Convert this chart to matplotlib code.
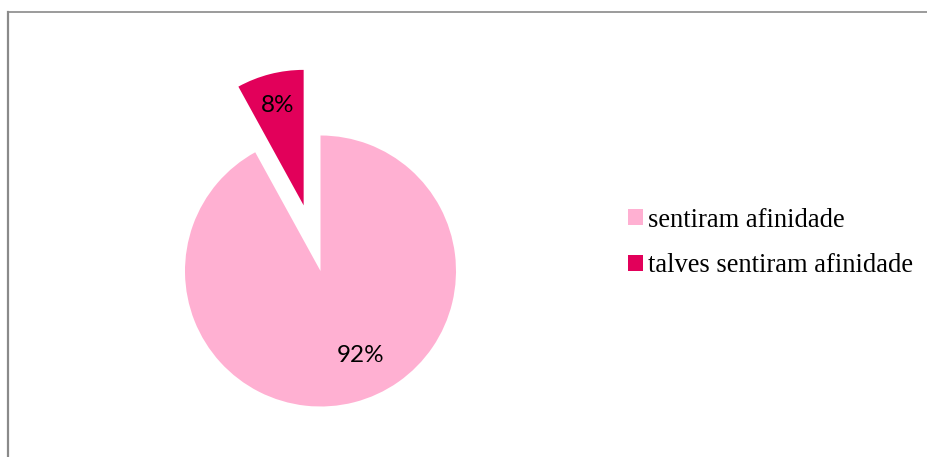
import numpy as np
import matplotlib.pyplot as plt
from matplotlib.lines import Line2D

labels = ['sentiram afinidade', 'talves sentiram afinidade']
values = [92, 8]
colors = ['#FFB0D2', '#E2005A']

W, H = 928, 457
fig = plt.figure(figsize=(W / 100, H / 100), dpi=100)

# pie centre and radius in pixels, axes scaled so one data unit = radius
cx, cy, r = 320.5, H - 271, 135.5
ax = fig.add_axes([0, 0, 1, 1])

wedges, texts, autotexts = ax.pie(values, colors=colors, startangle=90, counterclock=False,
                                  explode=[0, 0.5], radius=1,
                                  autopct='%1.0f%%', pctdistance=0.76,
                                  wedgeprops=dict(linewidth=0),
                                  textprops=dict(fontsize=17.5, family=['Lato', 'DejaVu Sans'],
                                                 color='black'))

ax.set_xlim(-cx / r, (W - cx) / r)
ax.set_ylim(-cy / r, (H - cy) / r)
ax.set_aspect('equal')
ax.axis('off')

# Excel-style placement of the big slice label
ang = np.deg2rad(-64.5)
autotexts[0].set_position((0.69 * np.cos(ang), 0.69 * np.sin(ang)))

fig.legend(wedges, labels, loc='center left', bbox_to_anchor=(628 / W, 1 - 243 / H),
           frameon=False, handlelength=0.55, handleheight=0.55, handletextpad=0.2,
           labelspacing=0.78, borderpad=0, borderaxespad=0,
           prop=dict(family=['Liberation Serif', 'DejaVu Serif'], size=19.1))

# chart frame (left and top edges)
fig.add_artist(Line2D([7.5 / W, 7.5 / W], [0, 1 - 11.5 / H], color='#8a8a8a', lw=1.6))
fig.add_artist(Line2D([7.5 / W, 1], [1 - 11.5 / H, 1 - 11.5 / H], color='#8a8a8a', lw=1.2))

fig.savefig('out.png', dpi=100)
